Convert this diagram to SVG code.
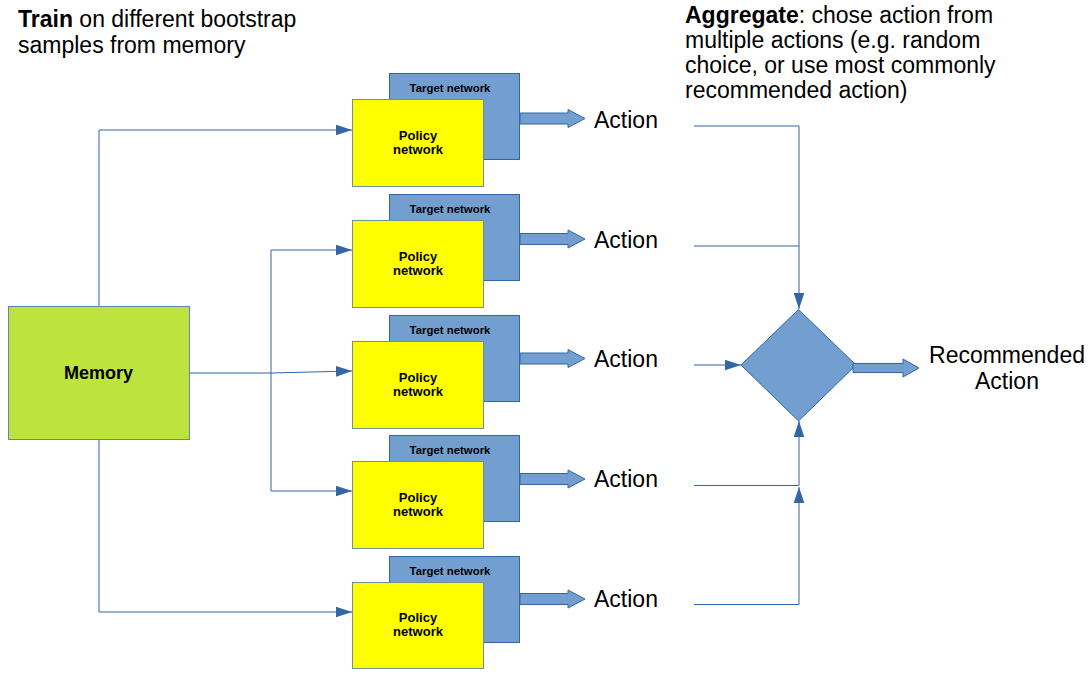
<svg xmlns="http://www.w3.org/2000/svg" width="1091" height="675" viewBox="0 0 1091 675">
<defs>
<style>
text{font-family:"Liberation Sans",Arial,sans-serif;fill:#000}
.big{font-size:23px}
.tn{font-size:11.4px;font-weight:bold;text-anchor:middle}
.pn{font-size:13px;font-weight:bold;text-anchor:middle}
.target{fill:#729fcf;stroke:#3465a4;stroke-width:1}
.policy{fill:#ffff00;stroke:#6f8f9a;stroke-width:1}
.barrow{fill:#729fcf;stroke:#3465a4;stroke-width:1}
.conn{fill:none;stroke:#3465a4;stroke-width:1}
</style>
<marker id="ah" markerUnits="userSpaceOnUse" markerWidth="16" markerHeight="12" viewBox="0 0 15 10" refX="15" refY="5" orient="auto">
<path d="M0,0 L15,5 L0,10 Z" fill="#3465a4"/>
</marker>
</defs>
<rect width="1091" height="675" fill="#fff"/>

<g id="title">
<text class="big" x="18" y="27"><tspan font-weight="bold">Train</tspan> on different bootstrap</text>
<text class="big" x="18" y="53">samples from memory</text>
</g>
<g id="aggregate-text">
<text class="big" x="685" y="23"><tspan font-weight="bold">Aggregate</tspan>: chose action from</text>
<text class="big" x="685" y="48">multiple actions (e.g. random</text>
<text class="big" x="685" y="73">choice, or use most commonly</text>
<text class="big" x="685" y="98">recommended action)</text>
</g>

<g id="connectors">
<path class="conn" d="M99,306 V130 H352" marker-end="url(#ah)"/>
<path class="conn" d="M190,373 H271 L352,371" marker-end="url(#ah)"/>
<path class="conn" d="M271,373 V250 H352" marker-end="url(#ah)"/>
<path class="conn" d="M271,373 V491 H352" marker-end="url(#ah)"/>
<path class="conn" d="M99,440 V612 H352" marker-end="url(#ah)"/>
<path class="conn" d="M694,126 H799 V309" marker-end="url(#ah)"/>
<path class="conn" d="M694,246 H799"/>
<path class="conn" d="M694,365 H741" marker-end="url(#ah)"/>
<path class="conn" d="M694,485.5 H799 V421" marker-end="url(#ah)"/>
<path class="conn" d="M694,604.5 H799 V487" marker-end="url(#ah)"/>
</g>

<g id="memory">
<rect x="8.5" y="306.5" width="181" height="133" fill="#bce33e" stroke="#5f86b5"/>
<text x="98.5" y="379" font-size="18" font-weight="bold" text-anchor="middle">Memory</text>
</g>

<g id="net1">
<rect class="target" x="389.5" y="73.5" width="130" height="86"/>
<text class="tn" x="450" y="92">Target network</text>
<rect class="policy" x="352.5" y="99.5" width="131" height="87"/>
<text class="pn" x="418" y="140">Policy</text>
<text class="pn" x="418" y="154">network</text>
<polygon class="barrow" points="520,113 568,113 568,109.5 585,118.5 568,127.5 568,124 520,124"/>
<text class="big" x="594" y="128">Action</text>
</g>
<g id="net2">
<rect class="target" x="389.5" y="194.5" width="130" height="86"/>
<text class="tn" x="450" y="213">Target network</text>
<rect class="policy" x="352.5" y="220.5" width="131" height="87"/>
<text class="pn" x="418" y="261">Policy</text>
<text class="pn" x="418" y="275">network</text>
<polygon class="barrow" points="520,233.5 568,233.5 568,230 585,239 568,248 568,244.5 520,244.5"/>
<text class="big" x="594" y="248">Action</text>
</g>
<g id="net3">
<rect class="target" x="389.5" y="315.5" width="130" height="86"/>
<text class="tn" x="450" y="334">Target network</text>
<rect class="policy" x="352.5" y="341.5" width="131" height="87"/>
<text class="pn" x="418" y="382">Policy</text>
<text class="pn" x="418" y="396">network</text>
<polygon class="barrow" points="520,353 568,353 568,349.5 585,358.5 568,367.5 568,364 520,364"/>
<text class="big" x="594" y="367">Action</text>
</g>
<g id="net4">
<rect class="target" x="389.5" y="435.5" width="130" height="86"/>
<text class="tn" x="450" y="454">Target network</text>
<rect class="policy" x="352.5" y="461.5" width="131" height="87"/>
<text class="pn" x="418" y="502">Policy</text>
<text class="pn" x="418" y="516">network</text>
<polygon class="barrow" points="520,473.5 568,473.5 568,470 585,479 568,488 568,484.5 520,484.5"/>
<text class="big" x="594" y="487">Action</text>
</g>
<g id="net5">
<rect class="target" x="389.5" y="556.5" width="130" height="86"/>
<text class="tn" x="450" y="575">Target network</text>
<rect class="policy" x="352.5" y="582.5" width="131" height="86"/>
<text class="pn" x="418" y="622">Policy</text>
<text class="pn" x="418" y="636">network</text>
<polygon class="barrow" points="520,593.5 568,593.5 568,590 585,599 568,608 568,604.5 520,604.5"/>
<text class="big" x="594" y="607">Action</text>
</g>

<g id="aggregate">
<polygon points="798.5,309.5 856,365 798.5,421 741,365" fill="#729fcf" stroke="#3465a4"/>
<polygon class="barrow" points="853,363.5 903,363.5 903,359 919,368 903,377 903,372.5 853,372.5"/>
</g>
<g id="recommended">
<text class="big" x="1007" y="363" text-anchor="middle">Recommended</text>
<text class="big" x="1007" y="389" text-anchor="middle">Action</text>
</g>
</svg>
